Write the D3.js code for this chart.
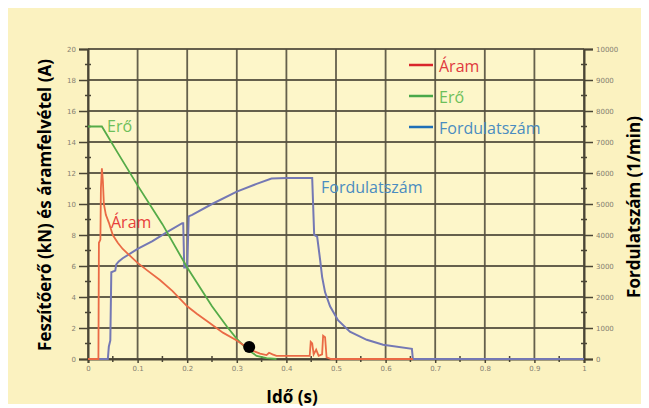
<!DOCTYPE html>
<html>
<head>
<meta charset="utf-8">
<script src="https://cdn.jsdelivr.net/npm/d3@7"></script>
<style>
  body { margin: 0; background: #ffffff; }
  svg { display: block; font-family: "Open Sans", sans-serif; }
</style>
</head>
<body>
<div id="chart"></div>
<script>
// Erő (kN)
const eroT = [0, 0.028, 0.06, 0.1, 0.15, 0.2, 0.25, 0.28, 0.30, 0.32, 0.34, 0.36, 0.38];
const eroV = [15, 15, 13.3, 11.2, 8.7, 5.9, 3.4, 2.1, 1.3, 0.65, 0.2, 0.05, 0];

// Áram (A)
const aramT = [0, 0.021, 0.022, 0.025, 0.026, 0.028, 0.030, 0.032, 0.036, 0.042, 0.05, 0.06, 0.07, 0.08, 0.1, 0.12, 0.145, 0.17, 0.2, 0.22, 0.246, 0.272, 0.30, 0.327, 0.347, 0.36, 0.365, 0.372, 0.38, 0.447, 0.449, 0.452, 0.455, 0.46, 0.465, 0.472, 0.474, 0.478, 0.481, 0.49, 0.655];
const aramV = [0, 0, 7.5, 7.7, 11, 12.3, 11.5, 10.0, 9.3, 8.8, 8.0, 7.5, 7.1, 6.8, 6.2, 5.7, 5.1, 4.4, 3.4, 2.9, 2.3, 1.7, 1.2, 0.6, 0.35, 0.25, 0.4, 0.3, 0.2, 0.2, 1.1, 1.0, 0.3, 0.6, 0.2, 0.3, 1.5, 1.4, 0.1, 0, 0];

// Fordulatszám (1/min)
const fordT = [0, 0.040, 0.042, 0.045, 0.047, 0.055, 0.057, 0.062, 0.07, 0.1, 0.13, 0.16, 0.19, 0.192, 0.194, 0.2, 0.203, 0.21, 0.25, 0.30, 0.34, 0.37, 0.40, 0.452, 0.456, 0.462, 0.468, 0.472, 0.478, 0.488, 0.504, 0.528, 0.562, 0.595, 0.653, 0.655, 1];
const fordV = [0, 0, 400, 600, 2800, 2850, 3050, 3150, 3250, 3550, 3800, 4100, 4380, 4380, 2950, 2950, 4600, 4650, 5000, 5400, 5650, 5820, 5840, 5840, 4000, 3950, 3200, 2650, 2150, 1700, 1250, 880, 620, 460, 330, 0, 0];

const marker = [0.325, 0.77];

const xTicks = [0, 0.1, 0.2, 0.3, 0.4, 0.5, 0.6, 0.7, 0.8, 0.9, 1];
const yLTicks = [0, 2, 4, 6, 8, 10, 12, 14, 16, 18, 20];
const yRTicks = [0, 1000, 2000, 3000, 4000, 5000, 6000, 7000, 8000, 9000, 10000];

const legendNames = ["Áram", "Erő", "Fordulatszám"];
const legendLine = ["#d9262c", "#4aa84a", "#1f6fb7"];
const legendText = ["#e0393e", "#6cbf5a", "#4a8cc0"];

function drawChart() {
    const width = 649, height = 408;
    const pL = 88, pR = 584, pT = 49, pB = 359;

    const svg = d3.select("#chart").append("svg")
        .attr("width", width)
        .attr("height", height);

    // background
    svg.append("rect").attr("x", 8).attr("y", 8).attr("width", 633).attr("height", 396).attr("fill", "#fbf2c0");
    svg.append("rect").attr("x", pL).attr("y", pT).attr("width", pR - pL).attr("height", pB - pT).attr("fill", "#fdf6c9");

    const x = d3.scaleLinear().domain([0, 1]).range([pL, pR]);
    const yL = d3.scaleLinear().domain([0, 20]).range([pB, pT]);
    const yR = d3.scaleLinear().domain([0, 10000]).range([pB, pT]);

    const gridColor = "#55503f";

    // grid
    svg.append("g").selectAll("line").data(xTicks).join("line")
        .attr("x1", d => x(d)).attr("x2", d => x(d))
        .attr("y1", pT).attr("y2", pB)
        .attr("stroke", gridColor).attr("stroke-width", 1.8).attr("opacity", 0.9);
    svg.append("g").selectAll("line").data(yLTicks).join("line")
        .attr("x1", pL).attr("x2", pR)
        .attr("y1", d => yL(d)).attr("y2", d => yL(d))
        .attr("stroke", gridColor).attr("stroke-width", 1.8).attr("opacity", 0.9);

    // axes
    const axL = svg.append("g").attr("transform", `translate(${pL},0)`)
        .call(d3.axisLeft(yL).tickValues(yLTicks).tickSize(9).tickFormat(d3.format("d")));
    const axR = svg.append("g").attr("transform", `translate(${pR},0)`)
        .call(d3.axisRight(yR).tickValues(yRTicks).tickSize(9).tickFormat(d3.format("d")));
    const axB = svg.append("g").attr("transform", `translate(0,${pB})`)
        .call(d3.axisBottom(x).tickValues(xTicks).tickSize(4).tickFormat(d => d === 0 || d === 1 ? d : d3.format(".1f")(d)));

    [axL, axR, axB].forEach(a => {
        a.select(".domain").attr("stroke", "#4a4535").attr("stroke-width", 2);
        a.selectAll(".tick line").attr("stroke", "#4a4535").attr("stroke-width", 1.5);
        a.selectAll("text").attr("fill", "#858070").style("font-size", "7px").style("font-family", "DejaVu Sans");
    });

    // minor ticks
    svg.append("g").selectAll("line").data(d3.range(1, 20, 2)).join("line")
        .attr("x1", pL - 3).attr("x2", pL + 3)
        .attr("y1", d => yL(d)).attr("y2", d => yL(d))
        .attr("stroke", "#4a4535").attr("stroke-width", 1.5);
    svg.append("g").selectAll("line").data(d3.range(500, 10000, 1000)).join("line")
        .attr("x1", pR - 3).attr("x2", pR + 3)
        .attr("y1", d => yR(d)).attr("y2", d => yR(d))
        .attr("stroke", "#4a4535").attr("stroke-width", 1.5);
    svg.append("g").selectAll("line").data(d3.range(0.05, 1, 0.1)).join("line")
        .attr("x1", d => x(d)).attr("x2", d => x(d))
        .attr("y1", pB - 3).attr("y2", pB + 3)
        .attr("stroke", "#4a4535").attr("stroke-width", 1.5);

    // series
    const lineL = d3.line().x(d => x(d[0])).y(d => yL(d[1]));
    const lineR = d3.line().x(d => x(d[0])).y(d => yR(d[1]));

    svg.append("path").datum(d3.zip(fordT, fordV))
        .attr("d", lineR).attr("fill", "none")
        .attr("stroke", "#7478b4").attr("stroke-width", 2);
    svg.append("path").datum(d3.zip(eroT, eroV))
        .attr("d", lineL).attr("fill", "none")
        .attr("stroke", "#55ab48").attr("stroke-width", 1.8);
    svg.append("path").datum(d3.zip(aramT, aramV))
        .attr("d", lineL).attr("fill", "none")
        .attr("stroke", "#ea6a45").attr("stroke-width", 1.8);

    svg.append("circle")
        .attr("cx", x(marker[0])).attr("cy", yL(marker[1]))
        .attr("r", 6).attr("fill", "#000");

    // in-chart labels
    svg.append("text").attr("x", 107).attr("y", 132).text("Erő")
        .attr("fill", "#6cbf5a").style("font-size", "16px");
    svg.append("text").attr("x", 111).attr("y", 228).text("Áram")
        .attr("fill", "#e8403c").style("font-size", "16px");
    svg.append("text").attr("x", 321).attr("y", 193).text("Fordulatszám")
        .attr("fill", "#4a8cc0").style("font-size", "16px");

    // legend
    const leg = svg.append("g").selectAll("g").data(legendNames).join("g")
        .attr("transform", (d, i) => `translate(409,${65 + i * 31})`);
    leg.append("line").attr("x1", 0).attr("x2", 24)
        .attr("stroke", (d, i) => legendLine[i]).attr("stroke-width", 2.5);
    leg.append("text").attr("x", 30).attr("y", 7).text(d => d)
        .attr("fill", (d, i) => legendText[i]).style("font-size", "16px");

    // axis titles
    svg.append("text")
        .attr("transform", `translate(51,${(pT + pB) / 2 + 1}) rotate(-90)`)
        .attr("text-anchor", "middle")
        .style("font-size", "17px").style("font-weight", "bold")
        .text("Feszítőerő (kN) és áramfelvétel (A)");
    svg.append("text")
        .attr("transform", `translate(640,207) rotate(-90)`)
        .attr("text-anchor", "middle")
        .style("font-size", "17px").style("font-weight", "bold")
        .text("Fordulatszám (1/min)");
    svg.append("text")
        .attr("x", 292).attr("y", 403)
        .attr("text-anchor", "middle")
        .style("font-size", "17px").style("font-weight", "bold")
        .text("Idő (s)");
}

drawChart();
</script>
</body>
</html>
